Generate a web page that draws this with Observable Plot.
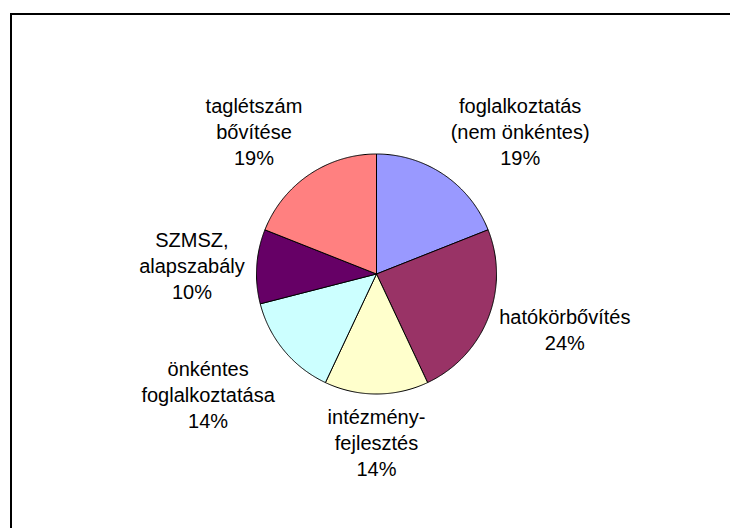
<!DOCTYPE html>
<html><head><meta charset="utf-8">
<script src="https://cdn.jsdelivr.net/npm/d3@7"></script>
<script src="https://cdn.jsdelivr.net/npm/@observablehq/plot@0.6"></script>
<style>
html,body{margin:0;padding:0;background:#fff;overflow:hidden;}
#wrap{position:relative;width:730px;height:528px;overflow:hidden;background:#fff;}
#frame{position:absolute;left:10px;top:13px;width:800px;height:600px;border-left:2px solid #000;border-top:2px solid #000;}
#chart{position:absolute;left:0;top:0;}
</style></head><body>
<div id="wrap"><div id="frame"></div><div id="chart"></div></div>
<script>
const categories = ["foglalkoztatás\n(nem önkéntes)", "hatókörbővítés", "intézmény-\nfejlesztés", "önkéntes\nfoglalkoztatása", "SZMSZ,\nalapszabály", "taglétszám\nbővítése"];
const values = [19, 24, 14, 14, 10, 19];
const colors = ["#9999FF", "#993366", "#FFFFCC", "#CCFFFF", "#660066", "#FF8080"];

const W = 730, H = 528, cx = 376, cy = 273.5, R = 120;
const FONT = "'Liberation Sans', Arial, sans-serif", FS = 20;
const total = d3.sum(values);
const pie = d3.pie().sort(null).value(d => d)(values);

const slicePts = pie.flatMap((p, i) => {
  const n = Math.max(2, Math.ceil((p.endAngle - p.startAngle) / (Math.PI / 360)));
  const pts = [{name: categories[i], x: 0, y: 0}];
  for (let k = 0; k <= n; k++) {
    const a = p.startAngle + (p.endAngle - p.startAngle) * k / n;
    pts.push({name: categories[i], x: Math.sin(a), y: Math.cos(a)});
  }
  pts.push({name: categories[i], x: 0, y: 0});
  return pts;
});

const ctx = document.createElement("canvas").getContext("2d");
ctx.font = `${FS}px ${FONT}`;
const blockWidth = t => d3.max(t.split("\n"), s => ctx.measureText(s).width);

const labels = pie.map((p, i) => {
  const a = (p.startAngle + p.endAngle) / 2, s = Math.sin(a), c = Math.cos(a);
  const k = 1.1;
  const text = `${categories[i]}\n${Math.round(values[i] / total * 100)}%`;
  const halfW = blockWidth(text) / 2 / R; // in data units
  const side = s > 0.3 ? 1 : s < -0.3 ? -1 : 0;
  const lineAnchor = c > 0.5 ? "bottom" : c < -0.5 ? "top" : "middle";
  return {
    text,
    x: k * s + side * halfW, y: k * c,
    lineAnchor,
    dy: lineAnchor === "middle" ? -c * 16 : 0
  };
});

const labelMarks = labels.map(l => Plot.text([l], {
  x: "x", y: "y", text: "text",
  textAnchor: "middle", lineAnchor: l.lineAnchor, dy: l.dy,
  lineHeight: 1.285, fill: "black", fontSize: FS
}));

const chart = Plot.plot({
  width: W, height: H,
  marginLeft: cx - R, marginRight: W - (cx + R), marginTop: cy - R, marginBottom: H - (cy + R),
  x: {domain: [-1, 1], axis: null},
  y: {domain: [-1, 1], axis: null},
  color: {domain: categories, range: colors},
  style: {fontFamily: FONT, fontSize: FS + "px", background: "transparent", overflow: "visible"},
  marks: [
    Plot.line(slicePts, {x: "x", y: "y", z: "name", fill: "name", stroke: "black", strokeWidth: 1, strokeLinejoin: "miter", strokeMiterlimit: 4}),
    ...labelMarks
  ]
});
document.getElementById("chart").appendChild(chart);
</script>
</body></html>
